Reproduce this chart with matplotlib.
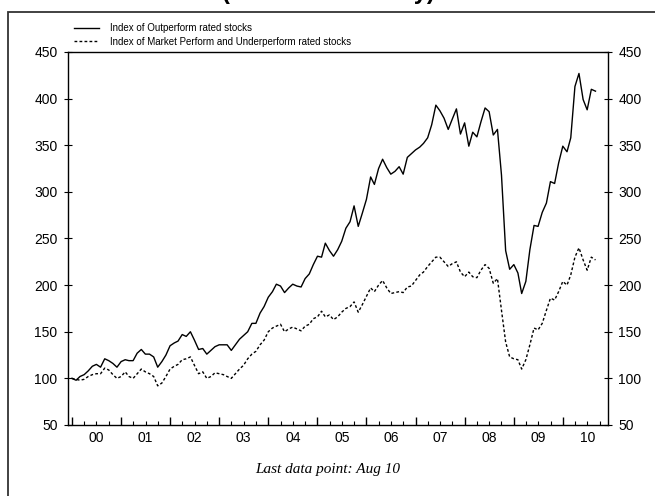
import numpy as np
import pandas as pd
import matplotlib
matplotlib.use("Agg")
import matplotlib.pyplot as plt
from matplotlib.patches import Rectangle
from matplotlib.ticker import FixedLocator, FixedFormatter

# monthly index levels, Dec 1999 .. Aug 2010
outperform = [
    100, 98, 102, 104, 108, 113, 115, 112, 121, 119, 116, 112,
    118, 120, 119, 119, 127, 131, 126, 126, 123, 112, 118, 125,
    135, 138, 140, 147, 145, 150, 141, 131, 132, 126, 130, 134,
    136, 136, 136, 130, 136, 142, 146, 150, 159, 159, 170, 177,
    187, 193, 201, 199, 192, 197, 201, 199, 198, 207, 212, 222,
    231, 230, 245, 237, 231, 238, 247, 261, 268, 285, 263, 277,
    292, 316, 308, 325, 335, 326, 319, 322, 327, 319, 337, 341,
    345, 348, 352, 358, 372, 393, 387, 379, 367, 378, 389, 362,
    374, 349, 364, 359, 375, 390, 386, 361, 367, 318, 237, 217,
    222, 213, 191, 204, 238, 264, 263, 278, 288, 311, 309, 331,
    349, 343, 358, 413, 427, 399, 388, 410, 408,
]
mkt_under = [
    100, 99, 98, 99, 102, 104, 105, 105, 111, 109, 104, 100,
    102, 107, 102, 100, 105, 110, 107, 105, 102, 92, 95, 102,
    110, 113, 115, 120, 121, 123, 114, 105, 107, 100, 102, 106,
    105, 104, 102, 100, 105, 110, 114, 121, 126, 129, 136, 141,
    150, 154, 156, 158, 150, 153, 155, 153, 151, 156, 158, 164,
    166, 172, 166, 168, 163, 166, 171, 175, 177, 182, 171, 179,
    188, 197, 193, 200, 205, 197, 191, 192, 193, 192, 198, 199,
    205, 211, 214, 220, 225, 230, 230, 225, 220, 223, 225, 214,
    209, 214, 209, 208, 216, 222, 218, 202, 207, 173, 139, 123,
    121, 120, 110, 120, 136, 154, 152, 159, 173, 186, 184, 193,
    204, 200, 211, 230, 240, 227, 216, 230, 227,
]
labels = ["Index of Outperform rated stocks",
          "Index of Market Perform and Underperform rated stocks"]
year_labels = ["00", "01", "02", "03", "04", "05", "06", "07", "08", "09", "10"]
y_ticks = [50, 100, 150, 200, 250, 300, 350, 400, 450]

dates = pd.date_range("1999-12-31", periods=len(outperform), freq="ME")
x = dates.year + (dates.dayofyear) / 365.25

plt.rcParams["font.family"] = ["Liberation Sans", "DejaVu Sans"]

fig = plt.figure(figsize=(6.55, 4.96), dpi=100)
W, H = 655, 496
ax = fig.add_axes([68 / W, 1 - 425 / H, 540 / W, 373 / H])

# outer frame of the exhibit (runs off the right and bottom edges)
fig.patches.append(Rectangle((8 / W, -0.2), 1.2, 0.2 + 1 - 12 / H,
                             transform=fig.transFigure, fill=False,
                             ec="#333333", lw=1.3))
# title sits above the crop, only its descenders show
fig.text(328 / W, 1 + 1.5 / H, "(Rebased monthly)",
         ha="center", va="baseline", fontsize=17, fontweight="bold")

l1, = ax.plot(x, outperform, color="black", lw=1.0)
l2, = ax.plot(x, mkt_under, color="black", lw=1.0, linestyle=(0, (2.0, 1.6)))

ax.set_xlim(1999.92, 2010.92)
ax.set_ylim(50, 450)

years = np.arange(2000, 2011)
ax.xaxis.set_major_locator(FixedLocator(years))
ax.xaxis.set_major_formatter(FixedFormatter([""] * len(years)))
quarters = [y + q for y in years for q in (0.25, 0.5, 0.75)]
ax.xaxis.set_minor_locator(FixedLocator(quarters))
qlab = []
for y in years:
    qlab += ["", year_labels[y - 2000], ""]
ax.xaxis.set_minor_formatter(FixedFormatter(qlab))
ax.tick_params(axis="x", which="major", direction="in", length=5.5, width=1, pad=4)
ax.tick_params(axis="x", which="minor", direction="in", length=2.8, width=0.8,
               pad=4, labelsize=10)

ax.set_yticks(y_ticks)
ax.tick_params(axis="y", direction="inout", length=6, width=0.8, pad=4.5,
               labelsize=10, right=True, labelright=True)

for s in ax.spines.values():
    s.set_linewidth(1.0)

fig.legend([l1, l2], labels, loc="upper left", bbox_to_anchor=(74 / W, 1 - 23 / H),
           frameon=False, fontsize=7, handlelength=2.6, handletextpad=1.1,
           labelspacing=0.4, borderpad=0, borderaxespad=0)

fig.text(328 / W, 1 - 470 / H, "Last data point: Aug 10", ha="center", va="center",
         fontsize=11, style="italic", family=["Liberation Serif", "DejaVu Serif"])

fig.savefig("out.png", dpi=100)
